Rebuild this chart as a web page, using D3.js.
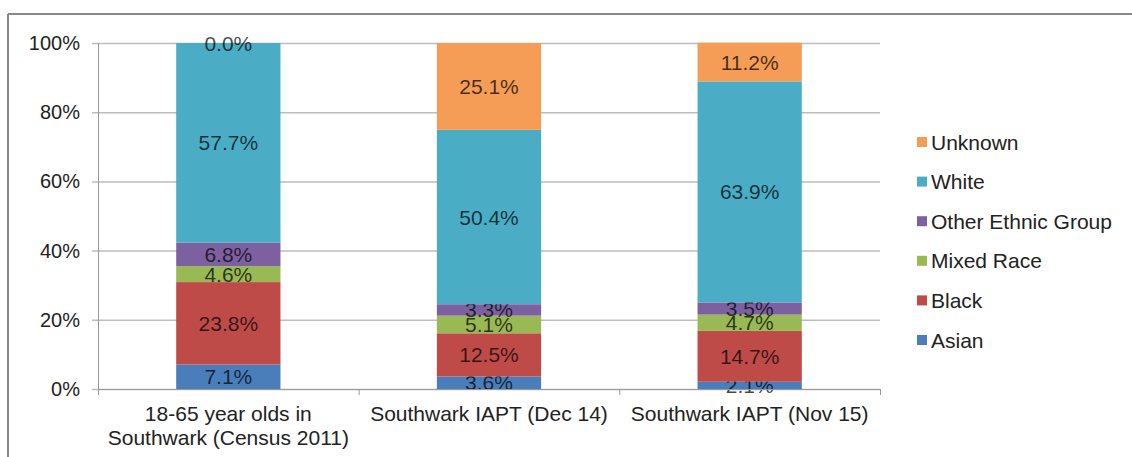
<!DOCTYPE html>
<html>
<head>
<meta charset="utf-8">
<script src="https://cdn.jsdelivr.net/npm/d3@7"></script>
<style>
body { margin: 0; background: #fff; }
text { font-family: "Liberation Sans", Arial, sans-serif; }
</style>
</head>
<body>
<div id="chart"></div>
<script>
// chart data
var categories = ["18-65 year olds in|Southwark (Census 2011)", "Southwark IAPT (Dec 14)", "Southwark IAPT (Nov 15)"];
var seriesNames = ["Asian", "Black", "Mixed Race", "Other Ethnic Group", "White", "Unknown"];
var asian = [7.1, 3.6, 2.1];
var black = [23.8, 12.5, 14.7];
var mixed = [4.6, 5.1, 4.7];
var other = [6.8, 3.3, 3.5];
var white = [57.7, 50.4, 63.9];
var unknown = [0.0, 25.1, 11.2];
var yTicks = [0, 20, 40, 60, 80, 100];
var colors = ["#4a7ebb", "#be4b48", "#98b954", "#7d60a0", "#4aacc5", "#f59d56"];

var seriesValues = [asian, black, mixed, other, white, unknown];

var rows = categories.map(function(c, i) {
    var r = {cat: c};
    seriesNames.forEach(function(s, k) { r[s] = seriesValues[k][i]; });
    return r;
});

var svg = d3.select("#chart").append("svg")
    .attr("width", 1132)
    .attr("height", 457);

// frame (top and left edges only visible)
svg.append("line").attr("x1", 8).attr("x2", 1132).attr("y1", 14).attr("y2", 14)
    .style("stroke", "#888").style("stroke-width", 2);
svg.append("line").attr("x1", 8).attr("x2", 8).attr("y1", 14).attr("y2", 457)
    .style("stroke", "#888").style("stroke-width", 2);

var plotLeft = 98, plotRight = 880, plotTop = 43, plotBottom = 389;

var x = d3.scaleBand().domain(categories).range([plotLeft, plotRight]).paddingInner(0.6).paddingOuter(0.3);
var y = d3.scaleLinear().domain([0, 100]).range([plotBottom, plotTop]);

// gridlines
svg.selectAll(".grid").data(yTicks).enter().append("line")
    .attr("x1", plotLeft - 6).attr("x2", plotRight)
    .attr("y1", function(d) { return y(d) + 0.5; })
    .attr("y2", function(d) { return y(d) + 0.5; })
    .style("stroke", "#bdbdbd").style("stroke-width", 1.5);

// y labels
svg.selectAll(".ylab").data(yTicks).enter().append("text")
    .attr("x", 80).attr("y", function(d) { return y(d) + 7; })
    .attr("text-anchor", "end")
    .style("font-size", "20px").style("fill", "#222")
    .text(function(d) { return d + "%"; });

var stack = d3.stack().keys(seriesNames)(rows);

var layer = svg.selectAll(".layer").data(stack).enter().append("g")
    .attr("class", "layer")
    .style("fill", function(d, i) { return colors[i]; });

layer.selectAll("rect").data(function(d) { return d; }).enter().append("rect")
    .attr("x", function(d) { return x(d.data.cat); })
    .attr("width", x.bandwidth())
    .attr("y", function(d) { return y(d[1]); })
    .attr("height", function(d) { return y(d[0]) - y(d[1]); });

// value labels
layer.selectAll(".val").data(function(d) { return d; }).enter().append("text")
    .attr("x", function(d) { return x(d.data.cat) + x.bandwidth() / 2; })
    .attr("y", function(d) { return (y(d[0]) + y(d[1])) / 2 + 7.5; })
    .attr("text-anchor", "middle")
    .style("font-size", "21px")
    .style("fill", "#000").style("fill-opacity", 0.72)
    .text(function(d) { return (d[1] - d[0]).toFixed(1) + "%"; });

// axes lines
svg.append("line").attr("x1", plotLeft + 0.5).attr("x2", plotLeft + 0.5).attr("y1", plotTop).attr("y2", plotBottom + 6)
    .style("stroke", "#999");
svg.append("line").attr("x1", plotLeft).attr("x2", plotRight).attr("y1", plotBottom + 0.5).attr("y2", plotBottom + 0.5)
    .style("stroke", "#999");
var step = (plotRight - plotLeft) / categories.length;
for (var t = 0; t <= categories.length; t++) {
    svg.append("line").attr("x1", plotLeft + t * step + 0.5).attr("x2", plotLeft + t * step + 0.5)
        .attr("y1", plotBottom).attr("y2", plotBottom + 6).style("stroke", "#999");
}

// x labels
svg.selectAll(".xlab").data(categories).enter().append("text")
    .attr("text-anchor", "middle")
    .style("font-size", "21px").style("fill", "#222")
    .each(function(d) {
        var parts = d.split("|");
        var el = d3.select(this);
        parts.forEach(function(p, i) {
            el.append("tspan")
                .attr("x", x(d) + x.bandwidth() / 2)
                .attr("y", 421 + i * 24)
                .text(p);
        });
    });

// legend
var legendOrder = seriesNames.slice().reverse();
var leg = svg.selectAll(".leg").data(legendOrder).enter().append("g")
    .attr("transform", function(d, i) { return "translate(917," + (142 + i * 39.6) + ")"; });
leg.append("rect").attr("x", 0).attr("y", -5).attr("width", 10).attr("height", 10)
    .style("fill", function(d) { return colors[seriesNames.indexOf(d)]; });
leg.append("text").attr("x", 14).attr("y", 7.5)
    .style("font-size", "21px").style("fill", "#222")
    .text(function(d) { return d; });
</script>
</body>
</html>
